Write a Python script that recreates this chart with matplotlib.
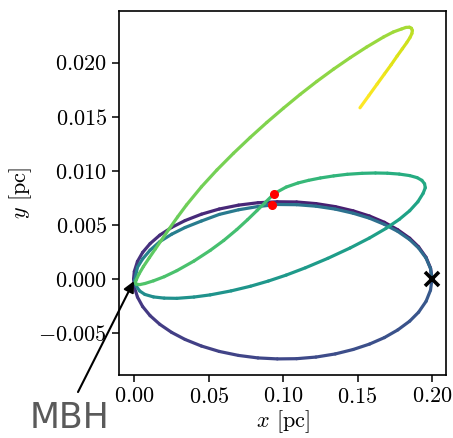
import numpy as np
import matplotlib.pyplot as plt
from matplotlib.collections import LineCollection
from matplotlib.ticker import FuncFormatter

plt.rcParams['font.family'] = 'serif'
plt.rcParams['font.serif'] = ['cmr10']
plt.rcParams['mathtext.fontset'] = 'cm'
plt.rcParams['axes.unicode_minus'] = True

# first orbit, upper half (apocentre -> pericentre)
o1u_x = [0.2000, 0.1990, 0.1960, 0.1910, 0.1850, 0.1770, 0.1680, 0.1580, 0.1470, 0.1350,
         0.1220, 0.1090, 0.0960, 0.0830, 0.0700, 0.0570, 0.0450, 0.0340, 0.0250, 0.0170,
         0.0105, 0.0055, 0.0020, -0.0001, -0.0006]
o1u_y = [0.00000, 0.00101, 0.00200, 0.00297, 0.00377, 0.00455, 0.00524, 0.00582, 0.00630, 0.00669,
         0.00697, 0.00712, 0.00714, 0.00705, 0.00683, 0.00647, 0.00599, 0.00540, 0.00477, 0.00405,
         0.00327, 0.00246, 0.00162, 0.00070, 0.00000]
# first orbit, lower half (pericentre -> apocentre)
o1l_x = [-0.0006, -0.0001, 0.0020, 0.0055, 0.0105, 0.0170, 0.0250, 0.0340, 0.0450, 0.0570,
         0.0700, 0.0830, 0.0960, 0.1090, 0.1220, 0.1350, 0.1470, 0.1580, 0.1680, 0.1770,
         0.1850, 0.1910, 0.1960, 0.1990, 0.2000]
o1l_y = [0.00000, -0.00074, -0.00167, -0.00255, -0.00339, -0.00419, -0.00494, -0.00559, -0.00620, -0.00670,
         -0.00707, -0.00730, -0.00739, -0.00737, -0.00722, -0.00693, -0.00652, -0.00602, -0.00542, -0.00471,
         -0.00390, -0.00307, -0.00207, -0.00104, 0.00000]
# second orbit, upper half
o2u_x = [0.2000, 0.1990, 0.1960, 0.1910, 0.1850, 0.1770, 0.1680, 0.1580, 0.1470, 0.1350,
         0.1220, 0.1090, 0.0960, 0.0830, 0.0700, 0.0570, 0.0450, 0.0340, 0.0250, 0.0170,
         0.0105, 0.0055, 0.0020, 0.0002]
o2u_y = [0.00000, 0.00097, 0.00193, 0.00286, 0.00364, 0.00440, 0.00505, 0.00562, 0.00608, 0.00646,
         0.00673, 0.00687, 0.00689, 0.00670, 0.00640, 0.00597, 0.00536, 0.00476, 0.00414, 0.00345,
         0.00266, 0.00186, 0.00108, -0.00010]
# second orbit, precessed lower branch and loop up to the first kick
o2l_x = [0.0002, 0.0012, 0.0035, 0.0070, 0.0128, 0.0200, 0.0285, 0.0400, 0.0509, 0.0650,
         0.0780, 0.0900, 0.1020, 0.1150, 0.1300, 0.1450, 0.1580, 0.1690, 0.1780, 0.1850,
         0.1905, 0.1940, 0.1955, 0.1950, 0.1932, 0.1900, 0.1850, 0.1780, 0.1700, 0.1620,
         0.1530, 0.1430, 0.1339, 0.1250, 0.1170, 0.1100, 0.1020, 0.0940]
o2l_y = [-0.00010, -0.00065, -0.00111, -0.00143, -0.00166, -0.00177, -0.00179, -0.00167, -0.00147, -0.00110,
         -0.00067, -0.00019, 0.00036, 0.00104, 0.00191, 0.00287, 0.00379, 0.00467, 0.00551, 0.00631,
         0.00714, 0.00791, 0.00844, 0.00880, 0.00912, 0.00937, 0.00956, 0.00970, 0.00978, 0.00980,
         0.00977, 0.00968, 0.00953, 0.00934, 0.00912, 0.00888, 0.00850, 0.00790]
# after the kick: back to pericentre
e1_x = [0.0940, 0.0880, 0.0823, 0.0760, 0.0688, 0.0600, 0.0509, 0.0400, 0.0285, 0.0200,
        0.0128, 0.0070, 0.0035, 0.0012, 0.0005]
e1_y = [0.00790, 0.00709, 0.00632, 0.00548, 0.00457, 0.00356, 0.00264, 0.00166, 0.00077, 0.00021,
        -0.00017, -0.00042, -0.00052, -0.00048, -0.00035]
# outgoing branch up to the turning point
e2_x = [0.0005, 0.0012, 0.0030, 0.0060, 0.0100, 0.0140, 0.0180, 0.0230, 0.0290, 0.0350,
        0.0450, 0.0554, 0.0666, 0.0778, 0.0890, 0.1002, 0.1114, 0.1226, 0.1340, 0.1451,
        0.1560, 0.1675, 0.1740, 0.1796, 0.1825, 0.1848]
e2_y = [-0.00035, -0.00008, 0.00045, 0.00115, 0.00197, 0.00277, 0.00357, 0.00457, 0.00574, 0.00685,
        0.00852, 0.01008, 0.01163, 0.01309, 0.01448, 0.01580, 0.01707, 0.01827, 0.01942, 0.02047,
        0.02144, 0.02238, 0.02284, 0.02312, 0.02326, 0.02328]
# turning point and end of the track
e3_x = [0.1848, 0.1862, 0.1868, 0.1865, 0.1852, 0.1830, 0.1800, 0.1765, 0.1725, 0.1680,
        0.1630, 0.1575, 0.1516]
e3_y = [0.02328, 0.02318, 0.02298, 0.02270, 0.02232, 0.02185, 0.02127, 0.02060, 0.01980, 0.01895,
        0.01800, 0.01695, 0.01583]

# colour (time fraction) at start / end of each piece
pieces = [(o1u_x, o1u_y, 0.05, 0.15), (o1l_x, o1l_y, 0.15, 0.28),
          (o2u_x, o2u_y, 0.33, 0.45), (o2l_x, o2l_y, 0.47, 0.68),
          (e1_x, e1_y, 0.69, 0.73), (e2_x, e2_y, 0.73, 0.87), (e3_x, e3_y, 0.87, 1.0)]

dots_x = [0.0940, 0.0924]
dots_y = [0.0079, 0.0068]
start_x, start_y = 0.2, 0.0

segs, cols = [], []
for px, py, c0, c1 in pieces:
    p = np.column_stack([px, py])
    segs.append(np.stack([p[:-1], p[1:]], axis=1))
    cols.append(np.linspace(c0, c1, len(px) - 1))
segs = np.concatenate(segs)
cols = np.concatenate(cols)

fig = plt.figure(figsize=(4.53, 4.38), dpi=100)
ax = fig.add_axes([0.2627, 0.1438, 0.7218, 0.8311])

lc = LineCollection(segs, cmap='viridis', linewidths=2.3, capstyle='round', joinstyle='round')
lc.set_array(cols)
lc.set_clim(0, 1)
ax.add_collection(lc)

ax.plot(dots_x, dots_y, 'o', color='red', ms=5.5, zorder=5)
ax.plot(start_x, start_y, 'x', color='k', ms=10, mew=2.6, zorder=6)

ax.set_xlim(-0.0104, 0.2094)
ax.set_ylim(-0.00888, 0.02478)
ax.set_xticks([0.0, 0.05, 0.10, 0.15, 0.20])
ax.set_yticks([-0.005, 0.0, 0.005, 0.010, 0.015, 0.020])
ax.xaxis.set_major_formatter(FuncFormatter(lambda v, p: f'${v:.2f}$'))
ax.yaxis.set_major_formatter(FuncFormatter(lambda v, p: f'${v:.3f}$'))
ax.tick_params(labelsize=16, length=5, width=1.1)
for s in ax.spines.values():
    s.set_linewidth(1.2)

ax.set_xlabel('$x$ [pc]', fontsize=16, labelpad=1)
ax.set_ylabel('$y$ [pc]', fontsize=16, labelpad=3)

ax.annotate('MBH', xy=(-0.0004, -0.0002), xycoords='data',
            xytext=(0.1534, 0.0228), textcoords='figure fraction',
            ha='center', va='baseline', fontsize=25, color='#5a5a5a',
            family='DejaVu Sans', annotation_clip=False,
            arrowprops=dict(arrowstyle='-|>', color='k', lw=1.5, relpos=(0.55, 1.0),
                            mutation_scale=16, shrinkA=5, shrinkB=0))

fig.savefig('out.png', dpi=100)
